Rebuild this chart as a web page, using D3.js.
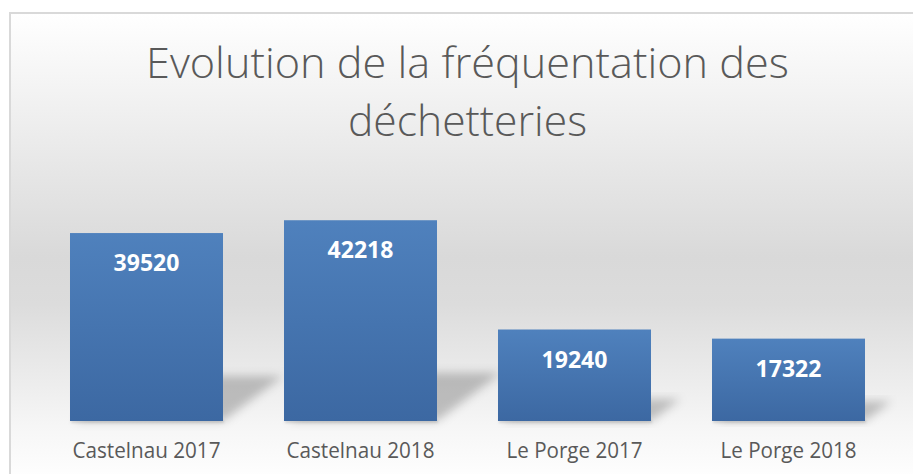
<!DOCTYPE html>
<html>
<head>
<meta charset="utf-8">
<script src="https://cdn.jsdelivr.net/npm/d3@7"></script>
<style>
  body { margin: 0; background: #fff; }
  svg { display: block; }
</style>
</head>
<body>
<svg id="chart" width="913" height="474"></svg>
<script>
var categories = ["Castelnau 2017", "Castelnau 2018", "Le Porge 2017", "Le Porge 2018"];
var values = [39520, 42218, 19240, 17322];
var titleLines = ["Evolution de la fréquentation des", "déchetteries"];

var svg = d3.select("#chart");
var defs = svg.append("defs");

// background gradient (excel style)
var bg = defs.append("linearGradient").attr("id", "bgGrad")
    .attr("x1", 0).attr("y1", 0).attr("x2", 0).attr("y2", 1);
bg.append("stop").attr("offset", "0%").attr("stop-color", "#ffffff");
bg.append("stop").attr("offset", "52%").attr("stop-color", "#d9d9d9");
bg.append("stop").attr("offset", "62%").attr("stop-color", "#dcdcdc");
bg.append("stop").attr("offset", "88%").attr("stop-color", "#f6f6f6");
bg.append("stop").attr("offset", "100%").attr("stop-color", "#ffffff");

var barGrad = defs.append("linearGradient").attr("id", "barGrad")
    .attr("x1", 0).attr("y1", 0).attr("x2", 0).attr("y2", 1);
barGrad.append("stop").attr("offset", "0%").attr("stop-color", "#4f81bd");
barGrad.append("stop").attr("offset", "100%").attr("stop-color", "#3c68a2");

var blur = defs.append("filter").attr("id", "shadowBlur")
    .attr("x", "-30%").attr("y", "-30%").attr("width", "160%").attr("height", "160%");
blur.append("feGaussianBlur").attr("stdDeviation", 5);

var blurSmall = defs.append("filter").attr("id", "baseBlur")
    .attr("x", "-10%").attr("y", "-100%").attr("width", "120%").attr("height", "300%");
blurSmall.append("feGaussianBlur").attr("stdDeviation", 1.2);

svg.append("rect")
    .attr("x", 10).attr("y", 13)
    .attr("width", 920).attr("height", 470)
    .attr("fill", "url(#bgGrad)")
    .attr("stroke", "#d9d9d9")
    .attr("stroke-width", 2);

// title
svg.selectAll(".title")
    .data(titleLines)
  .enter().append("text")
    .attr("class", "title")
    .attr("x", 467.5)
    .attr("y", function(d, i) { return 78 + i * 58; })
    .attr("text-anchor", "middle")
    .attr("textLength", function(d, i) { return i == 0 ? 643 : 239; })
    .attr("lengthAdjust", "spacingAndGlyphs")
    .style("font-family", "'Open Sans', sans-serif")
    .style("font-weight", 350)
    .style("font-size", "42px")
    .style("fill", "#595959")
    .text(function(d) { return d; });

var x = d3.scaleBand()
    .domain(categories)
    .range([39.5, 895.5])
    .paddingInner(0.285)
    .paddingOuter(0.1425);

var y = d3.scaleLinear()
    .domain([0, 45000])
    .range([421, 207]);

var data = categories.map(function(c, i) { return {cat: c, value: values[i]}; });

// perspective shadows
svg.selectAll(".shadow")
    .data(data)
  .enter().append("polygon")
    .attr("class", "shadow")
    .attr("points", function(d) {
        var x0 = x(d.cat), x1 = x0 + x.bandwidth();
        var h = y(0) - y(d.value);
        var dx = h * 0.32, dy = h * 0.24;
        return [[x0 + 4, y(0)], [x1, y(0)], [x1 + dx, y(0) - dy], [x0 + dx, y(0) - dy]].join(" ");
    })
    .attr("fill", "#000")
    .attr("fill-opacity", 0.22)
    .attr("filter", "url(#shadowBlur)");

svg.selectAll(".baseShadow")
    .data(data)
  .enter().append("rect")
    .attr("class", "baseShadow")
    .attr("x", function(d) { return x(d.cat) + 1; })
    .attr("y", y(0) - 1)
    .attr("width", x.bandwidth())
    .attr("height", 3)
    .attr("fill", "#000")
    .attr("fill-opacity", 0.12)
    .attr("filter", "url(#baseBlur)");

svg.selectAll(".bar")
    .data(data)
  .enter().append("rect")
    .attr("class", "bar")
    .attr("x", function(d) { return x(d.cat); })
    .attr("y", function(d) { return y(d.value); })
    .attr("width", x.bandwidth())
    .attr("height", function(d) { return y(0) - y(d.value); })
    .attr("fill", "url(#barGrad)");

svg.selectAll(".valueLabel")
    .data(data)
  .enter().append("text")
    .attr("class", "valueLabel")
    .attr("x", function(d) { return x(d.cat) + x.bandwidth() / 2; })
    .attr("y", function(d) { return y(d.value) + 38; })
    .attr("text-anchor", "middle")
    .style("font-family", "'Open Sans', sans-serif")
    .style("font-weight", 700)
    .style("font-size", "23px")
    .style("fill", "#ffffff")
    .text(function(d) { return d.value; });

// category axis labels
var axis = d3.axisBottom(x).tickSize(0).tickPadding(0);
var gx = svg.append("g")
    .attr("transform", "translate(0," + y(0) + ")")
    .call(axis);
gx.select(".domain").remove();
gx.selectAll("text")
    .attr("dy", null)
    .attr("y", 37)
    .style("font-family", "'Open Sans', sans-serif")
    .style("font-size", "22px")
    .style("fill", "#595959")
    .attr("textLength", function(d) { return d.indexOf("Castelnau") == 0 ? 148 : 136; })
    .attr("lengthAdjust", "spacingAndGlyphs");
</script>
</body>
</html>
